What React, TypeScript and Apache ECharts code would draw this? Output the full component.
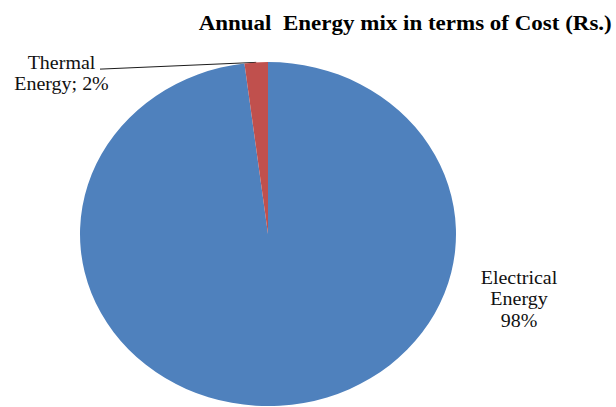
import React, { useEffect, useRef } from "react";
import * as echarts from "echarts";

const titleText = "Annual  Energy mix in terms of Cost (Rs.)";
const categories = ["Electrical Energy", "Thermal Energy"];
const values = [98, 2];
const labelTexts = ["Electrical\nEnergy\n98%", "Thermal\nEnergy; 2%"];
const colors = ["#4F81BD", "#C0504D"];

const W = 616;
const H = 407;
const SY = 0.915; // the reference image is squeezed vertically
const IH = H / SY;
const FONT = "'Liberation Serif', 'Times New Roman', serif";

export default function App() {
  const ref = useRef<HTMLDivElement>(null);
  useEffect(() => {
    if (!ref.current) return;
    const chart = echarts.init(ref.current, null, { renderer: "svg" });
    const labelPos = [
      { x: 519, y: 327 },
      { x: 61.5, y: 80 },
    ];
    chart.setOption({
      animation: false,
      backgroundColor: "#ffffff",
      title: {
        text: titleText,
        right: -1,
        top: 8,
        textStyle: {
          fontFamily: FONT,
          fontSize: 23,
          fontWeight: "bold",
          color: "#000",
        },
      },
      series: [
        {
          type: "pie",
          center: [268, 255.8],
          radius: [0, 188],
          startAngle: 90,
          clockwise: true,
          avoidLabelOverlap: false,
          itemStyle: { borderColor: "#ffffff", borderWidth: 0 },
          label: {
            show: true,
            position: "outside",
            fontFamily: FONT,
            fontSize: 20,
            lineHeight: 23.3,
            color: "#111",
            align: "center",
          },
          labelLine: {
            show: true,
            lineStyle: { color: "#111", width: 1 },
          },
          labelLayout: (params: any) => {
            const p = labelPos[params.dataIndex];
            const out: any = {
              x: p.x,
              y: p.y,
              align: "center",
              verticalAlign: "middle",
            };
            if (params.dataIndex === 1 && params.labelLinePoints) {
              const p0 = params.labelLinePoints[0];
              out.labelLinePoints = [p0, [101, 75.5], [100, 75.5]];
            }
            return out;
          },
          data: categories.map((c, i) => ({
            name: c,
            value: values[i],
            itemStyle: { color: colors[i] },
            label: { formatter: labelTexts[i] },
            labelLine: { show: i === 1 },
          })),
        },
      ],
    });
    return () => chart.dispose();
  }, []);
  return (
    <div
      style={{
        position: "fixed",
        left: 0,
        top: 0,
        width: W,
        height: H,
        overflow: "hidden",
        background: "#fff",
      }}
    >
      <div
        ref={ref}
        style={{
          width: W,
          height: IH,
          transform: `scaleY(${SY})`,
          transformOrigin: "0 0",
        }}
      />
    </div>
  );
}
